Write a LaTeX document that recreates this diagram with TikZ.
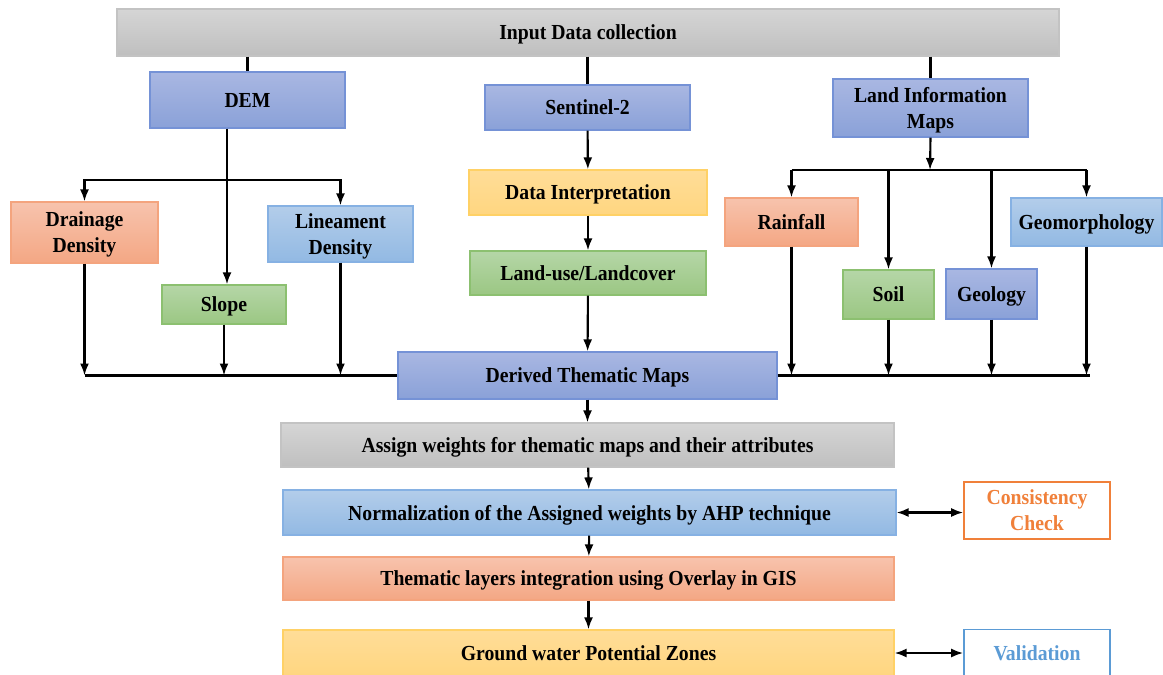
\documentclass[tikz,border=0pt]{standalone}
\usepackage{fontspec}
\setmainfont[FakeStretch=0.92]{Liberation Serif}
\usepackage{tikz}
\usetikzlibrary{positioning,arrows.meta}

\definecolor{bluetop}{HTML}{A9B7E2}
\definecolor{bluebot}{HTML}{8AA1D8}
\definecolor{blueln}{HTML}{7592D6}
\definecolor{ltbluetop}{HTML}{B3CDEA}
\definecolor{ltbluebot}{HTML}{92B9E3}
\definecolor{ltblueln}{HTML}{86B1E3}
\definecolor{orangetop}{HTML}{F7C3AD}
\definecolor{orangebot}{HTML}{F4A784}
\definecolor{orangeln}{HTML}{F4A47E}
\definecolor{greentop}{HTML}{B5D6A7}
\definecolor{greenbot}{HTML}{9BC783}
\definecolor{greenln}{HTML}{8CC070}
\definecolor{yellowtop}{HTML}{FFDD98}
\definecolor{yellowbot}{HTML}{FFD680}
\definecolor{yellowln}{HTML}{FFD166}
\definecolor{greytop}{HTML}{D5D5D5}
\definecolor{greybot}{HTML}{BFBFBF}
\definecolor{greyln}{HTML}{C3C3C3}
\definecolor{ccorange}{HTML}{F0803A}
\definecolor{valblue}{HTML}{5B9BD5}

\begin{document}
\begin{tikzpicture}[
  x=0.02cm, y=-0.02cm,
  box/.style={rectangle, inner sep=0pt, line width=0.7pt, align=center, text depth=0pt,
    font=\fontsize{12.2}{14.8}\selectfont\bfseries},
  bluebox/.style={box, draw=blueln, top color=bluetop, bottom color=bluebot},
  ltbluebox/.style={box, draw=ltblueln, top color=ltbluetop, bottom color=ltbluebot},
  orangebox/.style={box, draw=orangeln, top color=orangetop, bottom color=orangebot},
  greenbox/.style={box, draw=greenln, top color=greentop, bottom color=greenbot},
  yellowbox/.style={box, draw=yellowln, top color=yellowtop, bottom color=yellowbot},
  greybox/.style={box, draw=greyln, top color=greytop, bottom color=greybot},
  outbox/.style={box, fill=white, line width=0.9pt},
  arw/.style={-{Latex[length=2.4mm,width=1.8mm]}, line width=1.2pt},
  dblarw/.style={{Latex[length=2.4mm,width=1.8mm]}-{Latex[length=2.4mm,width=1.8mm]}, line width=1.2pt},
  symline/.style={-, line width=1.2pt},
  busline/.style={-, line width=1.6pt}
  ]

\useasboundingbox (0,0) rectangle (1163,674);

% top row
\node [greybox, minimum width=18.84cm, minimum height=0.94cm] (inp) at (588,32.5) {Input Data collection};
\node [bluebox, minimum width=3.9cm, minimum height=1.12cm] (dem) at (247.5,100) {DEM};
\node [bluebox, minimum width=4.1cm, minimum height=0.9cm] (sen) at (587.5,107.5) {Sentinel-2};
\node [bluebox, minimum width=3.9cm, minimum height=1.16cm] (lim) at (930.5,108) {Land Information\\Maps};

% DEM branch
\node [orangebox, minimum width=2.94cm, minimum height=1.22cm] (dd) at (84.5,232.5) {Drainage\\Density};
\node [greenbox, minimum width=2.48cm, minimum height=0.78cm] (slope) at (224,304.5) {Slope};
\node [ltbluebox, minimum width=2.9cm, minimum height=1.12cm] (lin) at (340.5,234) {Lineament\\Density};

% Sentinel branch
\node [yellowbox, minimum width=4.76cm, minimum height=0.9cm] (dint) at (588,192.5) {Data Interpretation};
\node [greenbox, minimum width=4.72cm, minimum height=0.88cm] (lulc) at (588,273) {Land-use/Landcover};

% land information branch
\node [orangebox, minimum width=2.66cm, minimum height=0.96cm] (rain) at (791.5,222) {Rainfall};
\node [greenbox, minimum width=1.82cm, minimum height=0.98cm] (soil) at (888.5,294.5) {Soil};
\node [bluebox, minimum width=1.82cm, minimum height=1.0cm] (geol) at (991.5,294) {Geology};
\node [ltbluebox, minimum width=3.02cm, minimum height=0.96cm] (geom) at (1086.5,222) {Geomorphology};

% main column
\node [bluebox, minimum width=7.58cm, minimum height=0.94cm] (dtm) at (587.5,375.5) {Derived Thematic Maps};
\node [greybox, minimum width=12.26cm, minimum height=0.88cm] (aw) at (587.5,445) {Assign weights for thematic maps and their attributes};
\node [ltbluebox, minimum width=12.26cm, minimum height=0.9cm] (norm) at (589.5,512.5) {Normalization of the Assigned weights by AHP technique};
\node [orangebox, minimum width=12.22cm, minimum height=0.86cm] (tli) at (588.5,578.5) {Thematic layers integration using Overlay in GIS};
\node [yellowbox, minimum width=12.22cm, minimum height=0.92cm] (gwp) at (588.5,653) {Ground water Potential Zones};
\node [outbox, draw=ccorange, text=ccorange, minimum width=2.92cm, minimum height=1.14cm] (cc) at (1037,510.5) {Consistency\\Check};
\node [outbox, draw=valblue, text=valblue, minimum width=2.92cm, minimum height=0.94cm] (val) at (1037,653) {Validation};

\coordinate (demb) at ([xshift=-0.41cm]dem.south);
\coordinate (demj) at (227,180);
\coordinate (limj) at (930,170);

\draw [symline] (inp.south -| dem.north) -- (dem.north);
\draw [symline] (inp.south -| sen.north) -- (sen.north);
\draw [symline] (inp.south -| lim.north) -- (lim.north);

\draw [arw] (demb) -- (demb |- slope.north);
\draw [busline] (dd.north |- demj) -- (lin.north |- demj);
\draw [arw] (demj) -| (dd.north);
\draw [arw] (demj) -| (lin.north);

\draw [arw] (sen) -- (dint);
\draw [arw] (dint) -- (lulc);
\draw [arw] (lulc) -- (dtm);

\draw [arw] (lim.south) -- (limj);
\draw [busline] (rain.north |- limj) -- (geom.north |- limj);
\foreach \n in {rain,soil,geol,geom}
  \draw [arw] (\n.north |- limj) -- (\n.north);

\draw [busline] (dd.south |- dtm.west) -- (dtm.west);
\draw [busline] (dtm.east) -- ([xshift=0.06cm]geom.south |- dtm.east);
\foreach \n in {dd,slope,lin,rain,soil,geol,geom}
  \draw [arw] (\n.south) -- (\n.south |- dtm.west);

\draw [arw] (dtm) -- (aw);
\draw [arw] (aw) -- (norm);
\draw [arw] (norm) -- (tli);
\draw [arw] (tli) -- (gwp);

\draw [dblarw] (norm.east) -- (norm.east -| cc.west);
\draw [dblarw] (gwp.east) -- (gwp.east -| val.west);

\end{tikzpicture}
\end{document}
